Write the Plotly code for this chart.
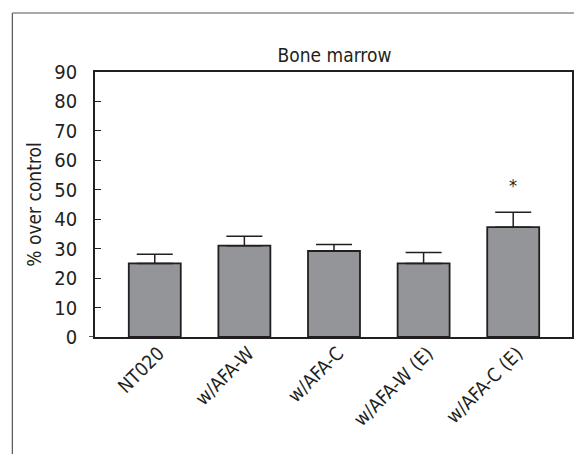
import plotly.graph_objects as go

categories = ["NT020", "w/AFA-W", "w/AFA-C", "w/AFA-W (E)", "w/AFA-C (E)"]
means = [25.0, 31.0, 29.2, 25.0, 37.3]
errors = [3.1, 3.2, 2.2, 3.7, 5.1]
sig_labels = ["", "", "", "", "*"]
y_ticks = [0, 10, 20, 30, 40, 50, 60, 70, 80, 90]

FONT = "DejaVu Sans Condensed, Liberation Sans Narrow, sans-serif"
INK = "#231f20"

# page body adds an 8px offset; figure coordinates compensate for it
W, H = 574, 446
L, T, R, B = 87, 64, 8, 117
PW, PH = W - L - R, H - T - B

fig = go.Figure()
fig.add_trace(go.Bar(
    x=list(range(len(categories))),
    y=means,
    width=0.58,
    marker=dict(color="#939598", line=dict(color=INK, width=1.8)),
    error_y=dict(type="data", array=errors, arrayminus=[0]*len(errors),
                 symmetric=False, color=INK, thickness=1.5, width=18),
    showlegend=False,
))

for i, s in enumerate(sig_labels):
    if s:
        fig.add_annotation(x=i, y=means[i] + errors[i] + 9, text=s, showarrow=False,
                           font=dict(family=FONT, size=18, color=INK),
                           xref="x", yref="y")

fig.update_layout(
    width=W, height=H,
    margin=dict(l=L, r=R, t=T, b=B, pad=0),
    paper_bgcolor="white", plot_bgcolor="white",
    font=dict(family=FONT, color=INK),
    title=dict(text="Bone marrow", x=(L + PW/2)/W, xanchor="center", y=1 - 47/H, yanchor="middle",
               font=dict(family=FONT, size=19, color=INK)),
    xaxis=dict(
        range=[-0.667, 4.656],
        tickmode="array", tickvals=list(range(len(categories))), ticktext=categories,
        tickangle=-45, ticks="", showgrid=False, zeroline=False,
        showline=True, linecolor=INK, linewidth=1.5, mirror=True,
        tickfont=dict(family=FONT, size=19, color=INK),
        ticklabelstandoff=-4, ticklabelshift=4,
    ),
    yaxis=dict(
        range=[0, 90], tickmode="array", tickvals=y_ticks,
        ticks="inside", ticklen=6, tickcolor=INK, tickwidth=1.2,
        showgrid=False, zeroline=False,
        showline=True, linecolor=INK, linewidth=1.5, mirror=True,
        tickfont=dict(family=FONT, size=20, color=INK),
        ticklabelstandoff=12,
        title=dict(text="% over control", font=dict(family=FONT, size=19, color=INK), standoff=8),
    ),
    shapes=[
        dict(type="line", xref="paper", yref="y", x0=-6/PW, x1=0, y0=0, y1=0,
             line=dict(color=INK, width=1.5)),
        dict(type="line", xref="paper", yref="paper",
             x0=(4-L)/PW, x1=(W-L)/PW, y0=(H-B-5)/PH, y1=(H-B-5)/PH,
             line=dict(color="#555555", width=1.2)),
        dict(type="line", xref="paper", yref="paper",
             x0=(4-L)/PW, x1=(4-L)/PW, y0=(H-B-5)/PH, y1=-B/PH,
             line=dict(color="#555555", width=1.2)),
    ],
)

fig.write_html("out.html")
